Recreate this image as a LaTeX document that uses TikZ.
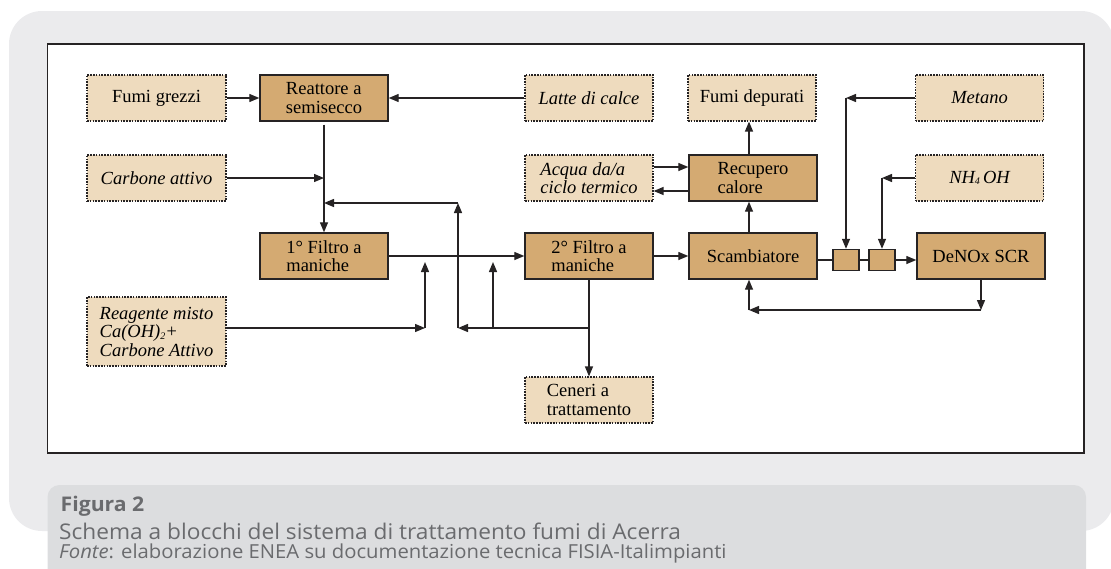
\documentclass[tikz,border=0pt]{standalone}
\usepackage{fontspec}
\setmainfont{Liberation Serif}
\newfontfamily\capfont[FakeStretch=1.05]{Open Sans}
\usetikzlibrary{arrows.meta,calc}
\definecolor{panelgray}{HTML}{EBEBED}
\definecolor{capgray}{HTML}{DCDDDF}
\definecolor{captext}{HTML}{6A6B6E}
\definecolor{unitfill}{HTML}{D4AA72}
\definecolor{feedfill}{HTML}{EEDBBE}
\definecolor{ink}{HTML}{262324}
\newcommand{\lowsub}[1]{{\fontsize{10}{10}\selectfont\raisebox{-1.5pt}{#1}}}

\begin{document}
\begin{tikzpicture}[x=1pt,y=-1pt,
  unit/.style={draw=ink, line width=1.4pt, fill=unitfill, minimum width=128pt,
    minimum height=46pt, inner sep=0pt, align=left,
    font=\fontsize{18.5}{18.5}\selectfont},
  feed/.style={unit, fill=feedfill, dash pattern=on 1.6pt off 1.2pt, line width=1.2pt},
  mini/.style={draw=ink, line width=1.4pt, fill=unitfill, minimum width=26pt,
    minimum height=21pt, inner sep=0pt},
  flow/.style={draw=ink, line width=1.3pt, -{Triangle[length=10pt,width=8pt]}},
  link/.style={draw=ink, line width=1.3pt},
  captxt/.style={anchor=base west, inner sep=0pt, text=captext}
]
\useasboundingbox (0,0) rectangle (1111,568);
\clip (0,0) rectangle (1111,568);

% background panels
\fill[panelgray, rounded corners=33pt] (9,11) rectangle (1114,531);
\fill[capgray, rounded corners=12pt] (47.5,485) rectangle (1086,600);
\draw[ink, line width=1.3pt, fill=white] (47.5,44) rectangle (1084,453);

% left column: inputs
\node[feed, minimum width=139pt] (fg) at (156.5,98) {Fumi grezzi};
\node[feed, minimum width=139pt] (ca) at (156.5,178) {\itshape Carbone attivo};
\node[feed, minimum width=139pt, minimum height=69pt] (rg) at (156.5,331.5)
  {\itshape Reagente misto\\ \itshape Ca(OH)\lowsub{2}+\\ \itshape Carbone Attivo};

% process units
\node[unit] (re) at (324,98) {Reattore a\\semisecco};
\node[unit] (f1) at (324,256) {1° Filtro a\\maniche};
\node[unit] (f2) at (589,256) {2° Filtro a\\maniche};
\node[unit] (sc) at (753,256) {Scambiatore};
\node[unit] (rc) at (753,178) {Recupero\\calore};
\node[unit] (dn) at (981,256) {DeNOx SCR};
\node[mini] (b1) at (846,260) {};
\node[mini] (b2) at (882,260) {};

% other feeds and outputs
\node[feed] (lc) at (589,98) {\itshape Latte di calce};
\node[feed] (aq) at (589,178) {\itshape Acqua da/a\\ \itshape ciclo termico};
\node[feed] (ce) at (589,400) {Ceneri a\\trattamento};
\node[feed] (fd) at (752,98) {Fumi depurati};
\node[feed] (me) at (979.5,98) {\itshape Metano};
\node[feed] (nh) at (979.5,178) {\itshape NH\lowsub{4}\,OH};

% junction points of the recirculation lines
\coordinate (jA) at (425,328);
\coordinate (jB) at (458,328);
\coordinate (jC) at (493,328);
\coordinate (rt) at (458,203);
\coordinate (tipy) at (0,262);
\coordinate (colx) at (749,0);
\coordinate (loopy) at (0,310);

% main gas line
\draw[flow] (fg) -- (re);
\draw[flow] (lc) -- (re);
\draw[flow] ([yshift=-3pt]re.south) -- (f1);
\draw[flow] (ca.east) -- (ca.east -| re.south);
\draw[flow] (f1) -- (f2);
\draw[flow] (f2) -- (sc);
\draw[flow] (sc.north -| colx) -- (rc.south -| colx);
\draw[flow] (rc.north -| colx) -- (fd.south -| colx);
\draw[flow] ([yshift=11pt]aq.east) -- ([yshift=11pt]aq.east -| rc.west);
\draw[flow] ([yshift=-13pt]rc.west) -- ([yshift=-13pt]rc.west -| aq.east);
\draw[link] (sc.east |- b1) -- (b1.west);
\draw[link] (b1) -- (b2);
\draw[flow] (b2.east) -- (b2.east -| dn.west);

% reagent dosing on the SCR line
\draw[flow] (me.west) -- (b1.north |- me.west);
\draw[flow] (b1.north |- me.west) -- (b1.north);
\draw[flow] (nh.west) -- (b2.north |- nh.west);
\draw[flow] (b2.north |- nh.west) -- (b2.north);

% SCR return to exchanger
\draw[flow] (dn.south) -- (dn.south |- loopy);
\draw[flow] (dn.south |- loopy) -- (colx |- loopy);
\draw[flow] (colx |- loopy) -- (sc.south -| colx);

% reagent injection and ash recirculation
\draw[flow] (rg.east |- jA) -- (jA);
\draw[flow] (jA) -- (jA |- tipy);
\draw[flow] (f2) -- (ce);
\draw[flow] (f2.south |- jB) -- (jB);
\draw[flow] (jB) -- (rt);
\draw[flow] (rt) -- (rt -| re.south);
\draw[flow] (jC) -- (jC |- tipy);

% caption
\node[captxt, font=\capfont\bfseries\fontsize{20.2}{20.2}\selectfont] (fig)
  at (60.5,511.7) {Figura 2};
\node[captxt, font=\capfont\fontsize{21.6}{21.6}\selectfont] (ttl) at (59,539)
  {Schema a blocchi del sistema di trattamento fumi di Acerra};
\node[captxt, font=\capfont\fontsize{19.3}{19.3}\selectfont] (src) at (59,558.5)
  {\textit{Fonte}: elaborazione ENEA su documentazione tecnica FISIA-Italimpianti};
\end{tikzpicture}
\end{document}
